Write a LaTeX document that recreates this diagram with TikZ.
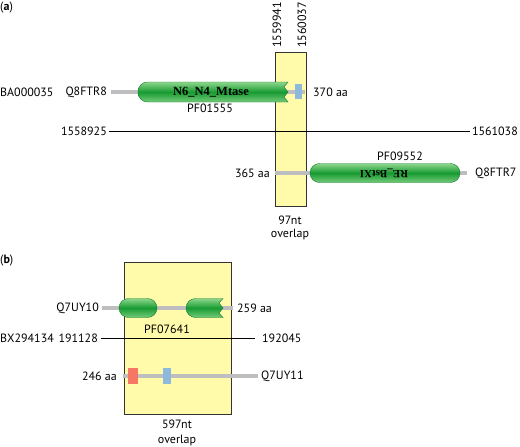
\documentclass[tikz,border=0pt]{standalone}
\usepackage{fontspec}
\setmainfont{PT Sans}
\newfontfamily\domfont{Liberation Serif}
\begin{document}
\begin{tikzpicture}[x=1pt,y=-1pt,
  lbl/.style={inner sep=0pt,font=\fontsize{12}{12}\selectfont},
  domlbl/.style={inner sep=0pt,font=\domfont\bfseries\fontsize{11}{11}\selectfont},
  ovbox/.style={fill=ovyellow,draw=black!80,line width=0.9pt},
  protline/.style={draw=protgray,line width=3.5pt},
  chrline/.style={draw=black,line width=0.8pt},
  pill/.style={top color=pilllight,bottom color=pilllight!80!pillmid,middle color=pillmid,draw=pillmid!80!black,line width=0.4pt},
  bluebox/.style={fill=boxblue,draw=none},
  redbox/.style={fill=boxred,draw=none}
]
\definecolor{ovyellow}{RGB}{255,251,170}
\definecolor{protgray}{RGB}{190,190,192}
\definecolor{pilllight}{RGB}{140,215,140}
\definecolor{pillmid}{RGB}{24,155,50}
\definecolor{boxblue}{RGB}{140,185,220}
\definecolor{boxred}{RGB}{244,120,100}
\useasboundingbox (0,0) rectangle (520,447);

% ---------------- panel (a) ----------------
\node[lbl,anchor=west] (la) at (0,8) {(\textbf{a})};
\draw[ovbox] (275,52) rectangle (306,206);
\node[lbl,rotate=90] (s1) at (277,25) {1559941};
\node[lbl,rotate=90] (s2) at (302,25) {1560037};

% row 1
\coordinate (a1l) at (111,92);
\coordinate (a1r) at (305,92);
\draw[protline] (a1l) -- (a1r);
\draw[pill,rounded corners=9.5pt] (288,82) -- (138,82) -- (138,102) [sharp corners] -- (288,102)
  -- (284,97) -- (288,92) -- (284,87) -- cycle;
\fill[bluebox] (295,84) rectangle (302,99);
\node[domlbl,font=\domfont\bfseries\fontsize{12.5}{12.5}\selectfont] (d1) at (211,92) {N6\_N4\_Mtase};
\node[lbl] (pf1) at (210,108) {PF01555};
\node[lbl,anchor=west] (ba) at (0,92) {BA000035};
\node[lbl,anchor=east] (q8) at (107,92) {Q8FTR8};
\node[lbl,anchor=west] (aa370) at (313,92) {370 aa};

% chromosome line
\node[lbl,anchor=east] (c1) at (107,131) {1558925};
\node[lbl,anchor=east] (c2) at (518,131) {1561038};
\coordinate (cl1) at (109,131);
\coordinate (cl2) at (470,131);
\draw[chrline] (cl1) -- (cl2);

% row 2
\coordinate (a2l) at (275,173);
\coordinate (a2r) at (467,173);
\draw[protline] (a2l) -- (a2r);
\draw[pill,rounded corners=9.5pt] (310,163.5) rectangle (460,182.5);
\node[domlbl,rotate=180] (d2) at (384,173) {RE\_BstXI};
\node[lbl] (pf2) at (400,156) {PF09552};
\node[lbl,anchor=east] (aa365) at (270,173) {365 aa};
\node[lbl,anchor=west] (q7) at (475,173) {Q8FTR7};

\node[lbl] (ov1) at (290,220) {97nt};
\node[lbl] (ov2) at (290,234) {overlap};

% ---------------- panel (b) ----------------
\node[lbl,anchor=west] (lb) at (0,261) {(\textbf{b})};
\draw[ovbox] (124,262) rectangle (231,414);

% row 1
\coordinate (b1l) at (102,308);
\coordinate (b1r) at (233,308);
\draw[protline] (b1l) -- (b1r);
\draw[pill,rounded corners=9.5pt] (119,298.5) rectangle (157,317.5);
\draw[pill,rounded corners=9.5pt] (223,298.5) -- (186,298.5) -- (186,317.5) [sharp corners] -- (223,317.5)
  -- (219,313) -- (223,308) -- (219,303) -- cycle;
\node[lbl] (pf3) at (167,329) {PF07641};
\node[lbl,anchor=east] (qa) at (99,308) {Q7UY10};
\node[lbl,anchor=west] (aa259) at (237,308) {259 aa};

% chromosome line
\node[lbl,anchor=west] (bx) at (0,338) {BX294134};
\node[lbl,anchor=east] (b1) at (98,338) {191128};
\node[lbl,anchor=west] (b2) at (262,338) {192045};
\coordinate (bl1) at (101,338);
\coordinate (bl2) at (255,338);
\draw[chrline] (bl1) -- (bl2);

% row 2
\coordinate (b2l) at (123,376);
\coordinate (b2r) at (258,376);
\draw[protline] (b2l) -- (b2r);
\fill[redbox] (128,368) rectangle (138,384);
\fill[bluebox] (163,368) rectangle (171,384);
\node[lbl,anchor=east] (aa246) at (117,376) {246 aa};
\node[lbl,anchor=west] (qb) at (261,376) {Q7UY11};

\node[lbl] (ov3) at (177,424) {597nt};
\node[lbl] (ov4) at (177,440) {overlap};
\end{tikzpicture}
\end{document}
